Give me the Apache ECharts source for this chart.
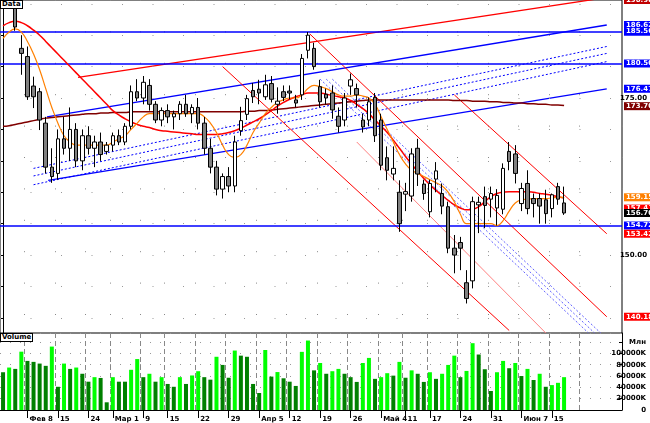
<!DOCTYPE html>
<html><head><meta charset="utf-8">
<script src="https://cdn.jsdelivr.net/npm/echarts@6/dist/echarts.min.js"></script>
<style>html,body{margin:0;padding:0;background:#fff}#c{width:650px;height:423px}</style>
</head><body><div id="c"></div>
<script>
// ---- data ----
const dates = ["02-02","02-03","02-04","02-05","02-08","02-09","02-10","02-11","02-12","02-15","02-16","02-17","02-18","02-19","02-24","02-25","02-26","02-27","03-01","03-02","03-03","03-04","03-05","03-09","03-10","03-11","03-12","03-15","03-16","03-17","03-18","03-19","03-22","03-23","03-24","03-25","03-26","03-29","03-30","03-31","04-01","04-02","04-05","04-06","04-07","04-08","04-09","04-12","04-13","04-14","04-15","04-16","04-19","04-20","04-21","04-22","04-23","04-26","04-27","04-28","04-29","04-30","05-04","05-05","05-06","05-07","05-11","05-12","05-13","05-14","05-17","05-18","05-19","05-20","05-21","05-24","05-25","05-26","05-27","05-28","05-31","06-01","06-02","06-03","06-04","06-07","06-08","06-09","06-10","06-11","06-15","06-16","06-17","f1","f2","f3","f4","f5","f6","f7","f8","f9"];
const tickLabels = {"02-08":"Фев 8","02-15":"15","02-24":"24","03-01":"Мар 1","03-09":"9","03-15":"15","03-22":"22","03-29":"29","04-05":"Апр 5","04-12":"12","04-19":"19","04-26":"26","05-04":"Май 4","05-11":"11","05-17":"17","05-24":"24","05-31":"31","06-07":"Июн 7","06-15":"15"};
const gridOnly = ["f3"];
// open, close, low, high
const ohlc = [
[191,192.5,190,193.5],[192.5,191,190.5,194],[191,186.3,185.7,191.5],[182.9,182.1,178.7,185],[181.6,175.2,174.7,183.2],
[176.9,175.2,173.4,178.4],[176,171.5,169.9,176.6],[171,164,163,172],[164,162.5,161.5,167],[163,168.5,162,170],
[168.5,167,166,172],[167,170,165,173.5],[170,165,164,171],[165,169,163.5,170],[169,167,166,170.5],
[167,168,164,169],[168,166,165,169.5],[166.5,167.5,166,168],[167.5,169,166.5,169.5],[169,168,167.5,170],
[168,170.5,167.5,171],[170.5,176,170,177],[176,175,174.5,178],[175,177.5,174,178.5],[177,174,173,178],
[174,171.5,171,174.5],[171.5,173,170.5,173.5],[173,172,171,174],[172,172.5,170,173],[172.5,174,171.5,174.5],
[174,172.5,172,175.5],[172.5,173.5,171,174],[173.5,171,170,175],[171,167,166,172],[167,164,163,168.5],
[164,160.5,159.5,165],[160.5,162.5,159,163],[162.5,161,160,164],[161,168,160,169],[169.8,171.4,169,173.6],
[172.4,174.9,171.5,175.5],[176.2,175.2,174.2,177.4],[176.4,175.8,174,177.9],[175.2,177.1,174.7,178.7],[177.3,174.8,174.3,178.5],
[174,174.5,172.5,176.7],[176,175.1,174.5,177],[176.1,175.8,174.8,177],[174.7,174.2,173.5,175.5],[175.5,181.3,174.7,182],
[182.6,185,181.3,185.5],[182.9,180,179.5,183.8],[176.8,174.4,173.5,177.9],[175.6,175,174,176.5],[175.8,173.1,171.7,177],
[172.1,170.5,169.5,173.5],[171.5,175,170.5,175.8],[176.9,177.9,175.5,178.9],[176.5,175.5,173.5,177.3],[171.5,170.4,169.5,172.5],
[171.5,174.4,170.5,175.1],[175.1,169,168,175.8],[171.5,164.3,163.5,172.5],[165.5,163.5,161.9,167.3],[162.9,163.8,161.9,167.3],
[160,155,153.7,161.9],[159.7,160.1,157,161.5],[159.4,166.1,158.5,167],[167,162.9,161,168.5],[161.3,159.8,158.8,162],
[156.9,161.4,156,162],[162.1,163.4,160,164.8],[159.8,157.8,156.5,161.4],[157.7,151.1,150.3,158.5],[151.1,150,147.1,153.2],
[152,151.1,147.6,152.9],[145.6,143.1,142.3,147.6],[145.9,158.5,144.7,159.3],[158,158.4,153.5,159.3],[159.3,157.9,154.3,160.9],
[158.9,159.8,156,160.9],[157.5,159.5,154.7,160.5],[157.3,163.8,156.5,164.6],[166.5,164.9,163.5,168],[166.1,163,161.4,167.5],
[158.2,160.6,157,161.5],[161.4,157.4,156.5,163.5],[159,158.2,156,159.8],[159,157.8,155,159.8],[158.8,156.6,155,160.4],
[157.4,159.6,156,159.8],[160.9,158.9,158,161.5],[158.3,156.7,156.4,160.9]];
const volume = [66700,75000,72600,103000,86700,85000,82000,78000,112000,41000,82000,72600,75000,64000,50000,58000,56600,13600,58000,50000,
50000,71000,90000,58000,64000,50000,58000,46000,41000,58000,46000,61000,68500,58000,53600,94000,79600,57000,105000,96000,
94000,46000,30000,106000,59000,67000,56000,50000,42500,102700,122700,70000,83000,64000,68500,72600,64000,58000,49600,83000,
92000,55000,58000,65000,60700,85000,57000,70000,64000,49600,66700,55000,64000,79600,96000,58000,69000,118000,98000,72000,
33600,66700,86700,73800,83000,60000,72600,53000,64000,41000,44000,48000,58000];
// moving averages (price)
const maFast = [184.5,185.5,186,185.5,184,182,179.5,176.5,173.5,171,169,168,167.5,167.5,167.5,167.5,167.5,167.5,168,168.5,
169,170,171,172,172.5,172.5,172.5,172.5,172.5,172.5,172.5,172.5,172.5,172,171,169.5,167.5,166,165.5,166,
167.5,169.5,171,172.5,173.5,174.3,174.7,175,175,175.5,176.5,177,176.8,176.5,176,175.5,175.3,175.3,175.5,175.3,
175,174,172,170,168,166,164.5,163.5,163,162.5,162,161.5,161,160,158.5,156.5,155,155,155,155,
155,154.7,155.5,157,158.3,158.8,158.9,159,159,159,159.1,159.2,159.2];
const maMid = [186.5,187,187.2,187,186.5,185.8,185,184,183,182,181,180,179,178,177,176,175,174,173,172.3,
171.7,171.2,170.8,170.5,170.3,170,169.8,169.7,169.6,169.5,169.4,169.3,169.2,169.2,169.2,169.2,169.3,169.5,169.8,170.2,
170.7,171.2,171.7,172.3,173,173.7,174.3,174.8,175.2,175.5,175.8,175.8,175.8,175.6,175.4,175.2,175,174.6,174,173.3,
172.5,171.5,170.5,169.5,168.3,167,165.7,164.5,163.3,162.2,161.2,160.3,159.5,158.7,158,157.5,157.2,157.3,157.7,158.5,
159.3,159.8,160,160.1,160.1,160.1,160.1,160,159.8,159.7,159.5,159.3,159.1];
const maSlow = [170.5,170.6,170.8,171,171.2,171.4,171.6,171.8,171.9,172,172.1,172.2,172.3,172.4,172.5,172.5,172.6,172.6,172.7,172.7,
172.7,172.8,172.8,172.8,172.8,172.8,172.8,172.8,172.8,172.8,172.8,172.8,172.8,172.8,172.8,172.8,172.8,172.8,172.8,172.8,
172.9,172.9,173,173,173.1,173.2,173.3,173.4,173.5,173.6,173.7,173.8,173.9,174,174.1,174.2,174.3,174.4,174.5,174.6,
174.7,174.7,174.7,174.7,174.7,174.7,174.7,174.7,174.7,174.7,174.7,174.7,174.7,174.7,174.6,174.6,174.6,174.5,174.5,174.5,
174.4,174.4,174.3,174.3,174.2,174.2,174.1,174.1,174,174,173.9,173.9,173.8];
// trend lines: [index1, price1, index2, price2]
const blueChannel = [[7.2,172.0,99,186.62],[7.4,161.9,99,176.47]];
const blueDotted = [[5,163.8,99,183.2],[5,162.6,99,182.1],[5,161.2,99,180.8]];
const redUp = [[12.3,178.3,99,191.0]];
const redDown = [[50.3,185.2,99,140.19],[36,180.0,83,138.0],[74,175.5,99,153.4]];
const pinkDown = [[58,168,89,137.6]];
const blueDown = [[52,178,96,137.6],[53,178,97,137.6],[54,178,98,137.6]];
const hLines = [185.56,180.5,154.72];
const gridLevels = [140,145,150,155,160,165,170,175,180,185,190];
const priceTicks = [150,175];
// right-side tags: [price, text, kind]
const tags = [[190.6,"190.9840","redTag"],[186.62,"186.6220","blue"],[185.56,"185.5600","blue"],[180.5,"180.5000","blue"],[176.47,"176.4730","blue"],
[173.7,"173.70","maroon"],[159.2,"159.15","orange"],[157.4,"157.41","red"],[156.7,"156.70","black"],[154.72,"154.7200","blue"],[153.4,"153.4236","red"],[140.19,"140.1874","red"]];

// ---- chart ----
const N = dates.length;
const colors = {up:'#ffffff',down:'#808080',blue:'#0000ff',red:'#ff0000',pink:'#ff8080',orange:'#ff8000',maroon:'#800000',volUp:'#00ff00',volDown:'#008000'};
const tagBg = {blue:'#0000ff',maroon:'#800000',orange:'#ff8000',red:'#ff0000',black:'#000000',redTag:'#c00000'};
const volData = volume.map((v,i)=>({value:v,itemStyle:{color:(i>0&&v>volume[i-1])?colors.volUp:colors.volDown}}));
const isTick = (idx)=> tickLabels[dates[idx]]!==undefined;
const isGrid = (idx)=> isTick(idx) || gridOnly.indexOf(dates[idx])>=0;
const font = 'DejaVu Sans';
function seg(list,color,type,width){
  return list.map(s=>({type:'line',xAxisIndex:2,yAxisIndex:0,data:[[s[0],s[1]],[s[2],s[3]]],symbol:'none',silent:true,
    lineStyle:{color:color,width:width||1,type:type||'solid'},z:3,clip:true,animation:false}));
}
const tagMarks = tags.map(t=>({yAxis:t[0],label:{formatter:t[1],backgroundColor:tagBg[t[2]],color:'#fff'}}));
const option = {
  animation:false,
  backgroundColor:'#fff',
  grid:[{left:0,right:28,top:0,height:333,show:true,borderColor:'#000',borderWidth:1},
        {left:0,right:28,top:333,height:77,show:false}],
  xAxis:[
    {type:'category',data:dates,gridIndex:0,boundaryGap:true,axisLine:{show:false},axisTick:{show:false},axisLabel:{show:false},
     splitLine:{show:true,interval:(i)=>isGrid(i),lineStyle:{color:'#888',type:[1,30.4],width:1}}},
    {type:'category',data:dates,gridIndex:1,boundaryGap:true,offset:5,axisLine:{lineStyle:{color:'#000'}},
     axisTick:{show:true,alignWithLabel:true,interval:(i)=>isTick(i),length:8,inside:false,lineStyle:{color:'#000'}},
     axisLabel:{interval:(i)=>isTick(i),formatter:(v)=>tickLabels[v]||'',align:'left',margin:1,padding:[0,0,0,2],fontSize:7,fontWeight:'bold',fontFamily:font,color:'#000'},
     splitLine:{show:true,interval:(i)=>isGrid(i),lineStyle:{color:'#888',type:[5,3],width:1}}},
    {type:'value',gridIndex:0,min:-0.5,max:N-0.5,show:false}
  ],
  yAxis:[
    {type:'value',gridIndex:0,position:'right',min:137.6,max:190.6,scale:true,
     axisLine:{show:true,lineStyle:{color:'#000'}},axisTick:{show:true,customValues:gridLevels,length:3,inside:true},
     axisLabel:{customValues:priceTicks,formatter:(v)=>v.toFixed(2),fontSize:7,fontWeight:'bold',fontFamily:font,color:'#000',align:'right',margin:25},
     splitLine:{show:false}},
    {type:'value',gridIndex:1,position:'right',min:0,max:136000,interval:20000,
     axisLine:{show:true,lineStyle:{color:'#000'}},axisTick:{show:true,length:3,inside:true},
     axisLabel:{formatter:(v)=>v===0?'0':(v>=120000?'Млн':(v/1)+'K'),fontSize:7,fontWeight:'bold',fontFamily:font,color:'#000',align:'right',margin:24,showMaxLabel:false},
     splitLine:{show:true,lineStyle:{color:'#999',type:[1,9]}}}
  ],
  series:[
    {type:'line',xAxisIndex:0,yAxisIndex:0,data:[],silent:true,
     markLine:{symbol:'none',silent:true,animation:false,label:{show:false},lineStyle:{color:'#999',type:[1,29.5],width:1},data:gridLevels.map(v=>({yAxis:v}))}},
    {type:'line',xAxisIndex:0,yAxisIndex:0,data:[],silent:true,z:4,
     markLine:{symbol:'none',silent:true,animation:false,label:{show:false},lineStyle:{color:colors.blue,type:'solid',width:1.5},data:hLines.map(v=>({yAxis:v}))}},
    {type:'line',name:'maSlow',xAxisIndex:0,yAxisIndex:0,data:maSlow,symbol:'none',smooth:true,lineStyle:{color:colors.maroon,width:1.5},z:5},
    {type:'line',name:'maMid',xAxisIndex:0,yAxisIndex:0,data:maMid,symbol:'none',smooth:true,lineStyle:{color:colors.red,width:1.5},z:5},
    {type:'line',name:'maFast',xAxisIndex:0,yAxisIndex:0,data:maFast,symbol:'none',smooth:true,lineStyle:{color:colors.orange,width:1.2},z:5},
    ...seg(blueChannel,colors.blue,'solid',1.3),
    ...seg(blueDotted,colors.blue,[2,2],1),
    ...seg(redUp,colors.red,'solid',1.3),
    ...seg(redDown,colors.red,'solid',1),
    ...seg(pinkDown,colors.pink,'solid',1),
    ...seg(blueDown,'#6060ff',[2,2],1),
    {type:'candlestick',xAxisIndex:0,yAxisIndex:0,data:ohlc,barWidth:4,z:6,
     itemStyle:{color:colors.up,color0:colors.down,borderColor:'#000',borderColor0:'#000',borderWidth:1}},
    {type:'bar',xAxisIndex:1,yAxisIndex:1,data:volData,barWidth:4},
    {type:'line',xAxisIndex:0,yAxisIndex:0,data:[],silent:true,z:10,
     markLine:{symbol:'none',silent:true,animation:false,lineStyle:{color:'rgba(0,0,0,0)',width:0},
       label:{show:true,position:'end',distance:2,fontSize:7,fontWeight:'bold',fontFamily:font,padding:[1,2,0,2],lineHeight:7},data:tagMarks}}
  ]
};
const chart = echarts.init(document.getElementById('c'),null,{renderer:'canvas'});
chart.setOption(option);
</script>
<div style="position:absolute;left:0;top:0;font:bold 7px 'DejaVu Sans';background:#fff;border:1px solid #000;padding:0 1px;line-height:7px">Data</div>
<div style="position:absolute;left:0;top:333px;font:bold 7px 'DejaVu Sans';background:#fff;border:1px solid #000;padding:0 1px;line-height:7px">Volume</div>
</body></html>
